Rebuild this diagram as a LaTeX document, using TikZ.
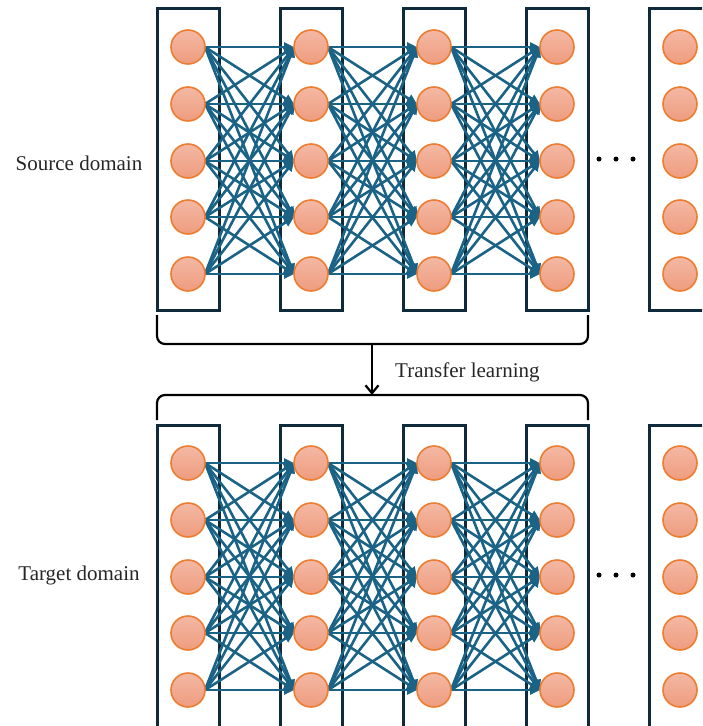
\documentclass[tikz,border=0pt]{standalone}
\usepackage{fontspec}
\setmainfont{Liberation Serif}
\usetikzlibrary{arrows.meta}
\definecolor{boxc}{HTML}{0E2A3B}
\definecolor{connc}{HTML}{1B6386}
\definecolor{nedge}{HTML}{ED7D31}
\definecolor{ntop}{HTML}{F4B8A4}
\definecolor{nbot}{HTML}{EE9C7E}
\begin{document}
\begin{tikzpicture}[x=1pt,y=1pt,
  layerbox/.style={draw=boxc, line width=3pt, minimum width=62pt, minimum height=302pt, inner sep=0pt, outer sep=0pt},
  neuron/.style={circle, draw=nedge, line width=1.6pt, top color=ntop, bottom color=nbot, minimum size=34pt, inner sep=0pt, outer sep=0pt},
  conn/.style={draw=connc, line width=2.6pt, -{Triangle[length=10pt,width=9pt]}},
  bracket/.style={draw=black, line width=2.2pt, rounded corners=8pt},
  tarrow/.style={draw=black, line width=2.2pt, -{Straight Barb[length=8pt,width=13pt,line width=2.2pt]}},
  lbl/.style={font=\fontsize{21}{25}\selectfont, text=black!85, inner sep=0pt},
  dot/.style={circle, fill=black, inner sep=0pt, minimum size=5pt}
]
\useasboundingbox (0,0) rectangle (702,-726);
\clip (0,0) rectangle (702,-726);
% layer boxes
\foreach \l/\x in {1/188,2/311,3/434,4/557,5/680}{
  \node[layerbox] (tb\l) at (\x,-159) {};
  \node[layerbox] (bb\l) at (\x,-576) {};
}
% neuron positions (nodes drawn after connectors)
\foreach \l/\x in {1/188,2/311,3/434,4/557,5/680}{
  \foreach \r/\y in {1/47,2/104,3/161,4/217,5/274}{
    \pgfmathtruncatemacro{\yb}{\y+416}
    \path (\x,-\y) node[circle, minimum size=34pt, inner sep=0pt, outer sep=0pt] (t\l\r) {};
    \path (\x,-\yb) node[circle, minimum size=34pt, inner sep=0pt, outer sep=0pt] (b\l\r) {};
  }
}
% connections
\foreach \l/\m in {1/2,2/3,3/4}{
  \foreach \i in {1,...,5}{
    \foreach \j in {1,...,5}{
      \draw[conn] (t\l\i.east) -- (t\m\j.west);
      \draw[conn] (b\l\i.east) -- (b\m\j.west);
    }
  }
}
% neurons
\foreach \l/\x in {1/188,2/311,3/434,4/557,5/680}{
  \foreach \r in {1,...,5}{
    \node[neuron] (tn\l\r) at (t\l\r) {};
    \node[neuron] (bn\l\r) at (b\l\r) {};
  }
}
% dots
\foreach \k/\x in {1/599,2/616,3/633}{
  \node[dot] (td\k) at (\x,-159) {};
  \node[dot] (bd\k) at (\x,-575) {};
}
% labels
\node[lbl] (src) at (79,-163) {Source domain};
\node[lbl] (tgt) at (79,-575) {Target domain};
% brackets and transfer arrow
\draw[bracket] (157,-315) -- (157,-344) -- (588,-344) -- (588,-315);
\draw[bracket] (157,-420) -- (157,-395) -- (588,-395) -- (588,-420);
\coordinate (arS) at (372,-344);
\coordinate (arE) at (372,-395);
\draw[tarrow] (arS) -- (arE);
\node[lbl, anchor=west] (tl) at (395,-372) {Transfer learning};
\end{tikzpicture}
\end{document}
